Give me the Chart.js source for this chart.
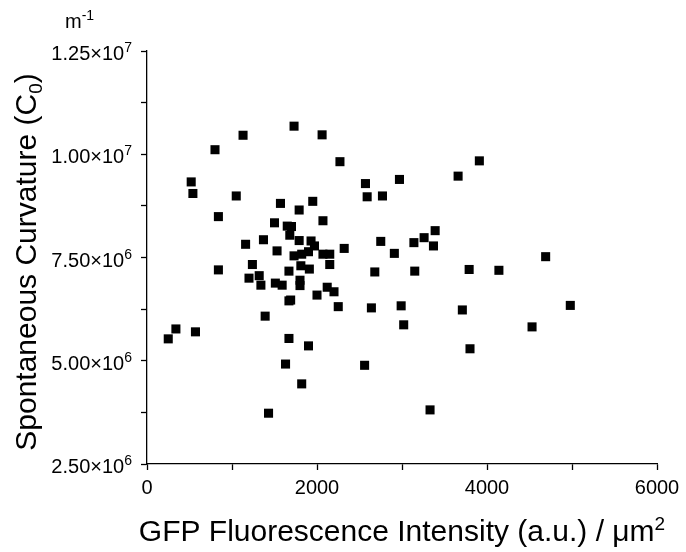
<!DOCTYPE html>
<html>
<head>
<meta charset="utf-8">
<script src="https://cdn.jsdelivr.net/npm/chart.js@4/dist/chart.umd.min.js"></script>
<style>
  body { margin: 0; background: #fff; }
  canvas { display: block; }
</style>
</head>
<body>
<canvas id="curvatureChart" width="686" height="552"></canvas>
<script>
// GFP intensity per area (a.u. / um^2)
const gfpIntensity = [
    1730, 1130, 2060, 800, 2270, 520, 540, 1050, 2570, 2590,
    2770, 2970, 1570, 1950, 1790, 840, 1500, 2070, 1650, 1700,
    1680, 1370, 1790, 1930, 1160, 1970, 2320, 2750, 2910, 1530,
    1900, 1730, 1820, 2070, 2150, 1240, 1810, 1910, 2150, 840,
    1670, 2680, 1320, 1200, 1340, 1510, 1590, 1800, 1800, 2120,
    2200, 2000, 1670, 1690, 2250, 2640, 2990, 1390, 340, 250,
    570, 1670, 1900, 1630, 2560, 1820, 1430, 3910, 3660, 3390,
    3260, 3140, 3370, 3150, 3790, 4140, 4690, 3020, 3710, 4980,
    4530, 3800, 3330
];

// spontaneous curvature C0 (m^-1)
const curvature = [
    10.68e6, 10.46e6, 10.47e6, 10.11e6, 9.82e6, 9.33e6, 9.05e6, 8.99e6, 9.29e6, 8.97e6,
    8.99e6, 9.39e6, 8.81e6, 8.86e6, 8.65e6, 8.49e6, 8.34e6, 8.39e6, 8.26e6, 8.25e6,
    8.04e6, 7.93e6, 7.91e6, 7.90e6, 7.82e6, 7.78e6, 7.72e6, 7.89e6, 7.60e6, 7.66e6,
    7.64e6, 7.54e6, 7.58e6, 7.58e6, 7.58e6, 7.33e6, 7.30e6, 7.22e6, 7.33e6, 7.20e6,
    7.17e6, 7.15e6, 7.06e6, 7.00e6, 6.83e6, 6.88e6, 6.83e6, 6.95e6, 6.82e6, 6.78e6,
    6.67e6, 6.59e6, 6.45e6, 6.47e6, 6.31e6, 6.28e6, 6.33e6, 6.08e6, 5.77e6, 5.53e6,
    5.70e6, 5.54e6, 5.36e6, 4.92e6, 4.89e6, 4.44e6, 3.73e6, 9.84e6, 9.47e6, 8.15e6,
    7.98e6, 7.86e6, 7.78e6, 7.17e6, 7.21e6, 7.19e6, 7.52e6, 5.87e6, 6.23e6, 6.34e6,
    5.82e6, 5.29e6, 3.81e6
];

// axis ranges and labelled tick spacing
const xRange = [0, 6000];
const xLabelStep = 2000;
const yRange = [2.5e6, 1.25e7];
const yLabelStep = 2.5e6;

const FONT = '"Liberation Sans", Arial, sans-serif';

const points = gfpIntensity.map((x, i) => ({ x: x, y: curvature[i] }));

// draws text pieces one after another: [text, size, shift]
function drawRuns(ctx, runs, x, y) {
    let cx = x;
    runs.forEach(r => {
        ctx.font = r[1] + 'px ' + FONT;
        ctx.fillText(r[0], cx, y + r[2]);
        cx += ctx.measureText(r[0]).width;
    });
}

function runsWidth(ctx, runs) {
    let w = 0;
    runs.forEach(r => {
        ctx.font = r[1] + 'px ' + FONT;
        w += ctx.measureText(r[0]).width;
    });
    return w;
}

// y tick labels (with real superscripts), axis titles and the unit
const labelsPlugin = {
    id: 'labelsPlugin',
    afterDraw(chart) {
        const ctx = chart.ctx;
        const yScale = chart.scales.y;
        const area = chart.chartArea;
        ctx.save();
        ctx.fillStyle = '#000';
        ctx.textAlign = 'left';
        ctx.textBaseline = 'alphabetic';

        // y tick labels like 7.50x10^6
        yScale.ticks.forEach(t => {
            if ((t.value - yRange[0]) % yLabelStep !== 0) return;
            const exp = Math.floor(Math.log10(t.value));
            const mant = (t.value / Math.pow(10, exp)).toFixed(2);
            const runs = [[mant + '×10', 20, 0], [String(exp), 14, -8]];
            const py = yScale.getPixelForValue(t.value);
            drawRuns(ctx, runs, 132 - runsWidth(ctx, runs), py + 9);
        });

        // unit above the y axis
        drawRuns(ctx, [['m', 20, 0], ['-1', 14, -8]], 65, 28);

        // x title
        const xRuns = [['GFP Fluorescence Intensity (a.u.) / μm', 30, 0], ['2', 19, -11]];
        const xMid = (area.left + area.right) / 2;
        drawRuns(ctx, xRuns, xMid - runsWidth(ctx, xRuns) / 2, 541);

        // y title, rotated
        const yRuns = [['Spontaneous Curvature (C', 30, 0], ['0', 19, 6], [')', 30, 0]];
        ctx.translate(36, 262);
        ctx.rotate(-Math.PI / 2);
        drawRuns(ctx, yRuns, -runsWidth(ctx, yRuns) / 2, 0);
        ctx.restore();
    }
};

const ctx = document.getElementById('curvatureChart').getContext('2d');

const curvatureChart = new Chart(ctx, {
    type: 'scatter',
    data: {
        datasets: [{
            data: points,
            pointStyle: 'rect',
            pointRadius: 6.4,
            pointHoverRadius: 6.4,
            borderWidth: 0,
            backgroundColor: '#000',
            borderColor: '#000'
        }]
    },
    options: {
        responsive: false,
        animation: false,
        devicePixelRatio: 1,
        layout: { padding: { left: 0, top: 51, right: 29, bottom: 0 } },
        plugins: {
            legend: { display: false },
            tooltip: { enabled: false }
        },
        scales: {
            x: {
                type: 'linear',
                min: xRange[0],
                max: xRange[1],
                afterFit(scale) { scale.height = 88; },
                border: { color: '#000', width: 1.3 },
                grid: { drawOnChartArea: false, tickLength: 6, tickColor: '#000', tickWidth: 1.3 },
                ticks: {
                    stepSize: 1000,
                    padding: 6,
                    color: '#000',
                    maxRotation: 0,
                    font: { family: FONT, size: 20 },
                    callback: v => (v % xLabelStep === 0 ? String(v) : '')
                }
            },
            y: {
                type: 'linear',
                min: yRange[0],
                max: yRange[1],
                afterFit(scale) { scale.width = 147; },
                border: { color: '#000', width: 1.3 },
                grid: { drawOnChartArea: false, tickLength: 6, tickColor: '#000', tickWidth: 1.3 },
                ticks: {
                    stepSize: 1.25e6,
                    color: 'rgba(0,0,0,0)',
                    font: { family: FONT, size: 20 },
                    callback: v => ((v - yRange[0]) % yLabelStep === 0 ? String(v) : '')
                }
            }
        }
    },
    plugins: [labelsPlugin]
});
</script>
</body>
</html>
